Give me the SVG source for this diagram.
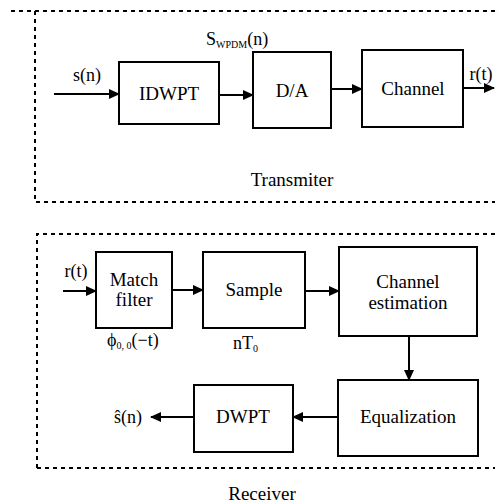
<svg xmlns="http://www.w3.org/2000/svg" width="495" height="504" viewBox="0 0 495 504">
<style>
.box{fill:#fff;stroke:#000;stroke-width:2}
.frame{fill:none;stroke:#000;stroke-width:2;stroke-dasharray:4 4}
text{font-family:'Liberation Serif',Tinos,'Times New Roman',Times,'DejaVu Serif','Noto Serif',serif;fill:#000}
.t{font-size:19px;text-anchor:middle}
.l{font-size:18px}
.c{text-anchor:middle}
.w{stroke:#000;stroke-width:2;fill:none}
</style>
<defs>
<marker id="ah" markerUnits="userSpaceOnUse" markerWidth="11" markerHeight="10" refX="10" refY="5" orient="auto">
<path d="M0,0 L11,5 L0,10 z" fill="#000"/>
</marker>
</defs>
<g id="frames">
<path class="frame" d="M11,11 H495 M35,11 V202 H495"/>
<path class="frame" d="M37,468 V234 H495 M37,468 H495"/>
<text class="t" x="292" y="186">Transmiter</text>
<text class="t" x="262" y="500">Receiver</text>
</g>
<g id="idwpt"><rect class="box" x="119" y="62" width="100" height="62"/><text class="t" x="169" y="100">IDWPT</text></g>
<g id="da"><rect class="box" x="253" y="52" width="78" height="76"/><text class="t" x="292" y="97">D/A</text></g>
<g id="channel"><rect class="box" x="362" y="50" width="101" height="77"/><text class="t" x="413" y="95">Channel</text></g>
<g id="match"><rect class="box" x="96" y="252" width="76" height="76"/><text class="t" x="134" y="286">Match</text><text class="t" x="134" y="306">filter</text></g>
<g id="sample"><rect class="box" x="203" y="252" width="102" height="76"/><text class="t" x="254" y="296">Sample</text></g>
<g id="chest"><rect class="box" x="339" y="247" width="138" height="89"/><text class="t" x="408" y="288">Channel</text><text class="t" x="408" y="309">estimation</text></g>
<g id="eq"><rect class="box" x="338" y="380" width="140" height="76"/><text class="t" x="408" y="423">Equalization</text></g>
<g id="dwpt"><rect class="box" x="194" y="385" width="99" height="67"/><text class="t" x="243" y="423">DWPT</text></g>
<g id="labels">
<text class="l c" x="87" y="81">s(n)</text>
<text class="l" x="206" y="45">S<tspan font-size="10" dy="3">WPDM</tspan><tspan dy="-3">(n)</tspan></text>
<text class="l c" x="481" y="80">r(t)</text>
<text class="l c" x="76" y="277">r(t)</text>
<text class="l" x="107" y="346">ϕ<tspan font-size="10" dy="3">0, 0</tspan><tspan dy="-3">(−t)</tspan></text>
<text class="l" x="233" y="349">nT<tspan font-size="10" dy="3">0</tspan></text>
<text class="l c" x="128" y="423">ŝ(n)</text>
</g>
<g id="connectors">
<path class="w" marker-end="url(#ah)" d="M54,94 H119"/>
<path class="w" marker-end="url(#ah)" d="M219,95 H253"/>
<path class="w" marker-end="url(#ah)" d="M331,89 H362"/>
<path class="w" marker-end="url(#ah)" d="M463,88 H494"/>
<path class="w" marker-end="url(#ah)" d="M63,291 H96"/>
<path class="w" marker-end="url(#ah)" d="M172,290 H203"/>
<path class="w" marker-end="url(#ah)" d="M305,291 H339"/>
<path class="w" marker-end="url(#ah)" d="M409,336 V380"/>
<path class="w" marker-end="url(#ah)" d="M338,417 H293"/>
<path class="w" marker-end="url(#ah)" d="M194,417 H151"/>
</g>
</svg>
